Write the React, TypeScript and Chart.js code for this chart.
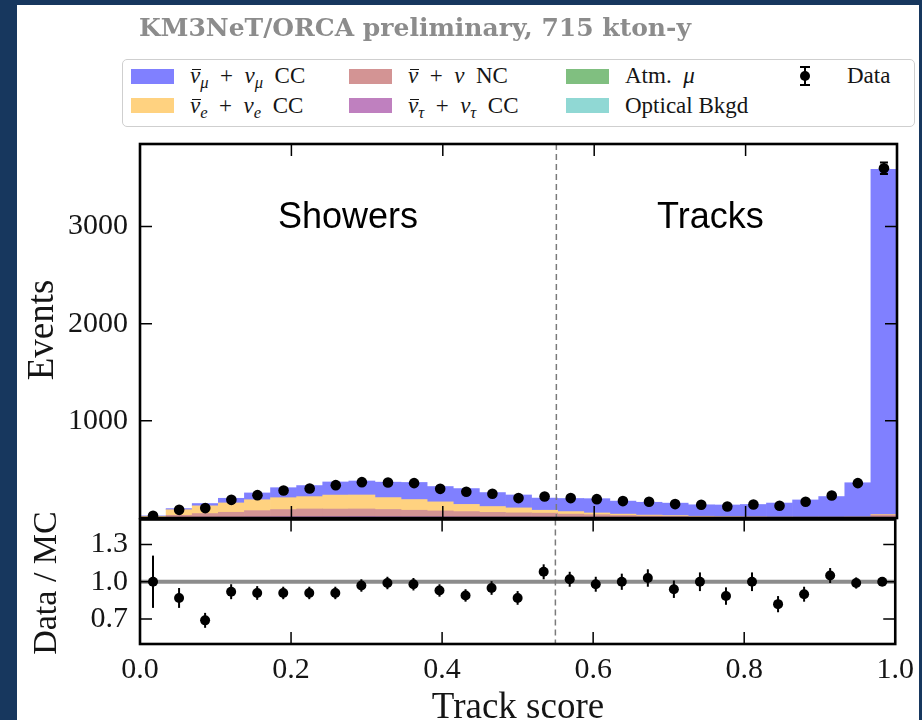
import React, { useEffect, useRef } from 'react';
import { Chart, registerables } from 'chart.js';
Chart.register(...registerables);

// ---------------- data ----------------
const N_BINS = 29;
const X_MIN = 0;
const X_MAX = 1;
const X_TICKS = [0, 0.2, 0.4, 0.6, 0.8, 1.0];
const MAIN_Y_TICKS = [1000, 2000, 3000];
const RATIO_Y_TICKS = [0.7, 1.0, 1.3];
const CUT_VALUE = 0.55;

const DATA = [22, 84, 102, 187, 235, 283, 304, 338, 369, 365, 359, 300, 270, 249, 205, 221, 205, 194, 174, 167, 143, 136, 119, 139, 126, 167, 232, 359, 3600];
const DATA_ERR = [5, 9, 10, 14, 15, 17, 17, 18, 19, 19, 19, 17, 16, 16, 14, 15, 14, 14, 13, 13, 12, 12, 11, 12, 11, 13, 15, 19, 60];

const NUMU_CC = [6, 12, 24, 48, 70, 103, 114, 135, 144, 159, 176, 158, 163, 144, 133, 125, 135, 147, 134, 132, 128, 118, 120, 127, 144, 177, 212, 353, 3552];
const NUE_CC = [10, 57, 79, 96, 112, 122, 127, 144, 144, 122, 110, 93, 74, 60, 51, 30, 26, 18, 14, 10, 9, 6, 4, 3, 2, 1, 1, 1, 5];
const NC = [5, 23, 37, 49, 64, 72, 78, 76, 76, 73, 66, 59, 54, 47, 42, 40, 32, 26, 20, 15, 10, 8, 6, 5, 4, 4, 4, 5, 22];
const NUTAU_CC = [1, 4, 7, 9, 11, 13, 14, 14, 14, 13, 12, 11, 10, 9, 8, 7, 5, 4, 3, 2, 2, 1, 1, 1, 1, 1, 1, 1, 3];
const ATM_MU = [0, 1, 1, 1, 1, 1, 1, 2, 2, 2, 2, 2, 2, 2, 2, 3, 3, 3, 3, 3, 3, 3, 3, 3, 3, 3, 3, 3, 5];
const OPTICAL = [0, 0, 1, 0, 0, 1, 0, 0, 1, 0, 0, 1, 0, 0, 1, 0, 0, 1, 0, 0, 1, 0, 0, 0, 0, 0, 0, 0, 1];

const RATIO = [1.00, 0.87, 0.69, 0.92, 0.91, 0.91, 0.91, 0.91, 0.97, 0.99, 0.98, 0.93, 0.89, 0.95, 0.87, 1.08, 1.02, 0.98, 1.00, 1.03, 0.94, 1.00, 0.885, 1.00, 0.82, 0.90, 1.05, 0.99, 1.00];
const RATIO_ERR = [0.21, 0.08, 0.06, 0.06, 0.055, 0.05, 0.05, 0.05, 0.05, 0.05, 0.05, 0.05, 0.05, 0.055, 0.055, 0.06, 0.06, 0.06, 0.065, 0.07, 0.07, 0.075, 0.07, 0.075, 0.065, 0.06, 0.06, 0.045, 0.017];

// ---------------- style ----------------
const C_NUMU = '#8080ff';
const C_NUE = '#ffd280';
const C_NC = '#d39494';
const C_TAU = '#bf80bf';
const C_ATM = '#80bf80';
const C_OPT = '#90d8d4';
const BG_DARK = '#17375e';
const SERIF = "'Liberation Serif', 'Times New Roman', serif";
const SANS = "'Liberation Sans', Arial, sans-serif";
const TXT = '#151515';

const binCenters = Array.from({ length: N_BINS }, (_, i) => X_MIN + ((i + 0.5) * (X_MAX - X_MIN)) / N_BINS);
const pts = (arr: number[]) => binCenters.map((x, i) => ({ x, y: arr[i] }));

function makeFramePlugin(xTicks: number[], yTicks: number[], values: number[], errs: number[], yId: string, cap: number) {
  return {
    id: 'frameAndErrors',
    afterDatasetsDraw(chart: any) {
      const { ctx, chartArea, scales } = chart;
      const { left, right, top, bottom } = chartArea;
      const xs = scales.x;
      const ys = scales.y;
      const ye = scales[yId];
      ctx.save();
      // error bars
      ctx.strokeStyle = '#000';
      ctx.lineWidth = 2;
      values.forEach((v, i) => {
        const px = xs.getPixelForValue(binCenters[i]);
        const y1 = ye.getPixelForValue(v - errs[i]);
        const y2 = ye.getPixelForValue(v + errs[i]);
        ctx.beginPath();
        ctx.moveTo(px, y1);
        ctx.lineTo(px, y2);
        if (cap > 0) {
          ctx.moveTo(px - cap, y1);
          ctx.lineTo(px + cap, y1);
          ctx.moveTo(px - cap, y2);
          ctx.lineTo(px + cap, y2);
        }
        ctx.stroke();
      });
      // dashed separator
      const cx = xs.getPixelForValue(CUT_VALUE);
      ctx.strokeStyle = '#7a7a7a';
      ctx.lineWidth = 1.5;
      ctx.setLineDash([6, 4]);
      ctx.beginPath();
      ctx.moveTo(cx, top);
      ctx.lineTo(cx, bottom);
      ctx.stroke();
      ctx.setLineDash([]);
      // inward ticks
      const L = 12;
      ctx.strokeStyle = '#000';
      ctx.lineWidth = 1.5;
      ctx.beginPath();
      xTicks.forEach((t) => {
        const px = xs.getPixelForValue(t);
        ctx.moveTo(px, bottom);
        ctx.lineTo(px, bottom - L);
        ctx.moveTo(px, top);
        ctx.lineTo(px, top + L);
      });
      yTicks.forEach((t) => {
        const py = ys.getPixelForValue(t);
        ctx.moveTo(left, py);
        ctx.lineTo(left + L, py);
        ctx.moveTo(right, py);
        ctx.lineTo(right - L, py);
      });
      ctx.stroke();
      // spines
      ctx.lineWidth = 2.6;
      ctx.strokeRect(left, top, right - left, bottom - top);
      ctx.restore();
    },
  };
}

const sub = (s: string) => (
  <sub style={{ fontSize: '0.72em', verticalAlign: '-0.3em', lineHeight: 0, fontStyle: 'italic' }}>{s}</sub>
);
const NuBar = () => (
  <span style={{ position: 'relative', display: 'inline-block' }}>
    <i>ν</i>
    <span style={{ position: 'absolute', left: '0.08em', width: '0.42em', top: 7, height: 1.4, background: TXT }} />
  </span>
);
const Nu = () => <i>ν</i>;
const PLUS = '\u2002+\u2002';
const GAP = '\u2002';

const LEGEND = [
  { color: C_NUMU, x: 131, row: 0, label: <><NuBar />{sub('μ')}{PLUS}<Nu />{sub('μ')}{GAP}CC</> },
  { color: C_NUE, x: 131, row: 1, label: <><NuBar />{sub('e')}{PLUS}<Nu />{sub('e')}{GAP}CC</> },
  { color: C_NC, x: 349, row: 0, label: <><NuBar />{PLUS}<Nu />{GAP}NC</> },
  { color: C_TAU, x: 349, row: 1, label: <><NuBar />{sub('τ')}{PLUS}<Nu />{sub('τ')}{GAP}CC</> },
  { color: C_ATM, x: 566, row: 0, label: <>Atm.{GAP}<i>μ</i></> },
  { color: C_OPT, x: 566, row: 1, label: <>Optical Bkgd</> },
];
const ROW_Y = [76, 105.5];

export default function App() {
  const mainRef = useRef<HTMLCanvasElement>(null);
  const ratioRef = useRef<HTMLCanvasElement>(null);

  useEffect(() => {
    const bar = (label: string, arr: number[], color: string) => ({
      type: 'bar' as const,
      label,
      data: pts(arr),
      backgroundColor: color,
      borderWidth: 0,
      barPercentage: 1,
      categoryPercentage: 1,
      yAxisID: 'y',
      order: 2,
    });
    const main = new Chart(mainRef.current!, {
      type: 'bar',
      data: {
        datasets: [
          bar('Optical Bkgd', OPTICAL, C_OPT),
          bar('Atm. mu', ATM_MU, C_ATM),
          bar('nutau CC', NUTAU_CC, C_TAU),
          bar('NC', NC, C_NC),
          bar('nue CC', NUE_CC, C_NUE),
          bar('numu CC', NUMU_CC, C_NUMU),
          {
            type: 'scatter' as const,
            label: 'Data',
            data: pts(DATA),
            yAxisID: 'yPts',
            pointRadius: 5.3,
            pointBackgroundColor: '#000',
            pointBorderWidth: 0,
            showLine: false,
            order: 0,
          } as any,
        ],
      },
      options: {
        animation: false,
        responsive: false,
        devicePixelRatio: 1,
        layout: { padding: { left: 0, right: 25, top: 144, bottom: 202 } },
        plugins: { legend: { display: false }, tooltip: { enabled: false } },
        scales: {
          x: { type: 'linear', min: X_MIN, max: X_MAX, offset: false, stacked: true, display: false },
          y: {
            type: 'linear',
            min: 0,
            max: 3850,
            stacked: true,
            afterBuildTicks: (s: any) => { s.ticks = MAIN_Y_TICKS.map((v) => ({ value: v })); },
            afterFit: (s: any) => { s.width = 140; },
            grid: { display: false, drawTicks: false },
            border: { display: false },
            ticks: { padding: 12, color: TXT, font: { family: SERIF, size: 30 }, callback: (v: any) => String(v) },
          },
          yPts: { type: 'linear', min: 0, max: 3850, display: false },
        },
      } as any,
      plugins: [makeFramePlugin(X_TICKS, MAIN_Y_TICKS, DATA, DATA_ERR, 'yPts', 4)],
    });

    const ratio = new Chart(ratioRef.current!, {
      type: 'scatter',
      data: {
        datasets: [
          {
            type: 'line' as const,
            label: 'unity',
            data: [{ x: X_MIN, y: 1 }, { x: X_MAX, y: 1 }],
            borderColor: 'rgba(120,120,120,0.85)',
            borderWidth: 4,
            pointRadius: 0,
            order: 1,
          } as any,
          {
            label: 'Data / MC',
            data: pts(RATIO),
            pointRadius: 5,
            pointBackgroundColor: '#000',
            pointBorderWidth: 0,
            order: 0,
          },
        ],
      },
      options: {
        animation: false,
        responsive: false,
        devicePixelRatio: 1,
        layout: { padding: { left: 0, right: 25, top: 519.5, bottom: 0 } },
        plugins: { legend: { display: false }, tooltip: { enabled: false } },
        scales: {
          x: {
            type: 'linear',
            min: X_MIN,
            max: X_MAX,
            afterBuildTicks: (s: any) => { s.ticks = X_TICKS.map((v) => ({ value: v })); },
            afterFit: (s: any) => { s.height = 76; },
            grid: { display: false, drawTicks: false },
            border: { display: false },
            ticks: { padding: 8, maxRotation: 0, autoSkip: false, color: TXT, font: { family: SERIF, size: 30 }, callback: (v: any) => Number(v).toFixed(1) },
          },
          y: {
            type: 'linear',
            min: 0.5,
            max: 1.5,
            afterBuildTicks: (s: any) => { s.ticks = RATIO_Y_TICKS.map((v) => ({ value: v })); },
            afterFit: (s: any) => { s.width = 140; },
            grid: { display: false, drawTicks: false },
            border: { display: false },
            ticks: { padding: 12, color: TXT, font: { family: SERIF, size: 30 }, callback: (v: any) => Number(v).toFixed(1) },
          },
        },
      } as any,
      plugins: [makeFramePlugin(X_TICKS, RATIO_Y_TICKS, RATIO, RATIO_ERR, 'y', 0)],
    });

    return () => {
      main.destroy();
      ratio.destroy();
    };
  }, []);

  const abs = (extra: React.CSSProperties): React.CSSProperties => ({ position: 'absolute', whiteSpace: 'nowrap', ...extra });

  return (
    <div style={{ position: 'absolute', left: 0, top: 0, width: 922, height: 720, background: BG_DARK, overflow: 'hidden' }}>
      <div style={abs({ left: 17, top: 5, width: 902, height: 715, background: '#ffffff' })} />
      <canvas ref={mainRef} width={922} height={720} style={abs({ left: 0, top: 0, width: 922, height: 720 })} />
      <canvas ref={ratioRef} width={922} height={720} style={abs({ left: 0, top: 0, width: 922, height: 720 })} />

      {/* title */}
      <div style={abs({ left: 139, top: 12, fontFamily: "'DejaVu Serif', serif", fontWeight: 'bold', fontSize: 25, lineHeight: '32px', color: '#8c8c8c' })}>
        KM3NeT/ORCA preliminary, 715 kton-y
      </div>

      {/* legend */}
      <div style={abs({ left: 122, top: 59, width: 793, height: 68, boxSizing: 'border-box', border: '1.5px solid #cfcfcf', borderRadius: 5, background: '#fff' })} />
      {LEGEND.map((it, i) => (
        <React.Fragment key={i}>
          <div style={abs({ left: it.x, top: ROW_Y[it.row] - 7.5, width: 43, height: 15, background: it.color })} />
          <div style={abs({ left: it.x + 59, top: ROW_Y[it.row] - 14, lineHeight: '28px', fontFamily: SERIF, fontSize: 23, color: TXT })}>{it.label}</div>
        </React.Fragment>
      ))}
      {/* data legend marker */}
      <div style={abs({ left: 804, top: 67, width: 2, height: 18, background: '#000' })} />
      <div style={abs({ left: 800, top: 66, width: 10, height: 2, background: '#000' })} />
      <div style={abs({ left: 800, top: 84, width: 10, height: 2, background: '#000' })} />
      <div style={abs({ left: 800, top: 71, width: 10, height: 10, borderRadius: 5, background: '#000' })} />
      <div style={abs({ left: 847, top: ROW_Y[0] - 14, lineHeight: '28px', fontFamily: SERIF, fontSize: 23, color: TXT })}>Data</div>

      {/* region labels */}
      <div style={abs({ left: 278, top: 196, lineHeight: '40px', fontFamily: SANS, fontSize: 36, color: '#000' })}>Showers</div>
      <div style={abs({ left: 657, top: 196, lineHeight: '40px', fontFamily: SANS, fontSize: 36, color: '#000' })}>Tracks</div>

      {/* axis titles */}
      <div style={abs({ left: 40, top: 330, transform: 'translate(-50%, -50%) rotate(-90deg)', fontFamily: SERIF, fontSize: 37, color: TXT })}>Events</div>
      <div style={abs({ left: 45, top: 583, transform: 'translate(-50%, -50%) rotate(-90deg)', fontFamily: SERIF, fontSize: 34, color: TXT })}>Data / MC</div>
      <div style={abs({ left: 518, top: 705, transform: 'translate(-50%, -50%)', fontFamily: SERIF, fontSize: 37, color: TXT })}>Track score</div>
    </div>
  );
}
